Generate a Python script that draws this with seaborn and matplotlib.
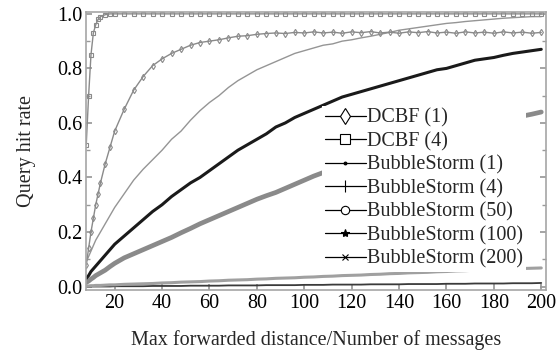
import numpy as np
import pandas as pd
import seaborn as sns
import matplotlib
matplotlib.use("Agg")
import matplotlib.pyplot as plt
from matplotlib.lines import Line2D
from matplotlib.ticker import MultipleLocator

# ---- data ----
x_vals = [8, 9, 10, 11, 12, 13, 14, 16, 18, 20, 24, 28, 32, 36, 40, 44, 48, 52, 56, 60,
          64, 68, 72, 76, 80, 84, 88, 92, 96, 100, 104, 108, 112, 116, 120, 124, 128, 132,
          136, 140, 144, 148, 152, 156, 160, 164, 168, 172, 176, 180, 184, 188, 192, 196, 200]

dcbf_1 = [0.08, 0.14, 0.20, 0.25, 0.30, 0.34, 0.38, 0.45, 0.51, 0.57, 0.65, 0.72, 0.77, 0.81,
          0.835, 0.855, 0.87, 0.885, 0.895, 0.90, 0.905, 0.912, 0.918, 0.92, 0.925, 0.928,
          0.93, 0.928, 0.932, 0.93, 0.934, 0.93, 0.933, 0.929, 0.934, 0.931, 0.935, 0.93,
          0.933, 0.929, 0.934, 0.931, 0.935, 0.93, 0.933, 0.929, 0.934, 0.93, 0.933, 0.929,
          0.934, 0.93, 0.933, 0.929, 0.932]

dcbf_4 = [0.52, 0.70, 0.85, 0.93, 0.96, 0.98, 0.99, 0.997, 1.0, 1.0, 1.0, 1.0, 1.0, 1.0,
          1.0, 1.0, 1.0, 1.0, 1.0, 1.0, 1.0, 1.0, 1.0, 1.0, 1.0, 1.0, 1.0, 1.0, 1.0, 1.0,
          1.0, 1.0, 1.0, 1.0, 1.0, 1.0, 1.0, 1.0, 1.0, 1.0, 1.0, 1.0, 1.0, 1.0, 1.0, 1.0,
          1.0, 1.0, 1.0, 1.0, 1.0, 1.0, 1.0, 1.0, 1.0]

bs_1 = [0.09, 0.11, 0.13, 0.15, 0.17, 0.185, 0.20, 0.23, 0.26, 0.29, 0.34, 0.39, 0.43, 0.465,
        0.50, 0.54, 0.57, 0.61, 0.645, 0.675, 0.70, 0.73, 0.755, 0.775, 0.795, 0.81, 0.825,
        0.84, 0.855, 0.865, 0.875, 0.885, 0.89, 0.90, 0.905, 0.912, 0.918, 0.925, 0.932,
        0.94, 0.945, 0.95, 0.955, 0.96, 0.965, 0.968, 0.972, 0.975, 0.978, 0.981, 0.984,
        0.986, 0.988, 0.99, 0.99]

bs_4 = [0.03, 0.04, 0.055, 0.065, 0.075, 0.085, 0.095, 0.115, 0.135, 0.155, 0.185, 0.215,
        0.245, 0.275, 0.30, 0.33, 0.355, 0.38, 0.40, 0.425, 0.45, 0.475, 0.50, 0.52, 0.54,
        0.56, 0.585, 0.60, 0.62, 0.635, 0.65, 0.665, 0.68, 0.695, 0.705, 0.715, 0.725,
        0.735, 0.745, 0.755, 0.765, 0.775, 0.785, 0.795, 0.80, 0.81, 0.82, 0.83, 0.835,
        0.84, 0.848, 0.855, 0.86, 0.865, 0.87]

bs_50 = [0.015, 0.02, 0.027, 0.033, 0.04, 0.045, 0.05, 0.06, 0.073, 0.085, 0.105, 0.12,
         0.135, 0.15, 0.165, 0.18, 0.197, 0.213, 0.23, 0.245, 0.26, 0.275, 0.29, 0.305,
         0.32, 0.333, 0.345, 0.36, 0.375, 0.39, 0.405, 0.418, 0.43, 0.443, 0.455, 0.468,
         0.48, 0.49, 0.50, 0.51, 0.52, 0.53, 0.54, 0.55, 0.56, 0.567, 0.575, 0.585, 0.595,
         0.603, 0.61, 0.618, 0.625, 0.632, 0.64]

bs_100 = [0.002, 0.002, 0.003, 0.003, 0.004, 0.004, 0.004, 0.005, 0.006, 0.006, 0.008,
          0.009, 0.010, 0.011, 0.013, 0.014, 0.016, 0.017, 0.018, 0.020, 0.021, 0.023,
          0.024, 0.025, 0.027, 0.028, 0.030, 0.031, 0.032, 0.034, 0.035, 0.037, 0.038,
          0.040, 0.041, 0.042, 0.044, 0.045, 0.047, 0.048, 0.050, 0.051, 0.052, 0.054,
          0.055, 0.057, 0.058, 0.060, 0.061, 0.062, 0.064, 0.065, 0.066, 0.067, 0.068]

bs_200 = [0.0, 0.0, 0.0, 0.0, 0.0, 0.0, 0.0, 0.0, 0.0, 0.001, 0.001, 0.001, 0.001, 0.002,
          0.002, 0.002, 0.002, 0.003, 0.003, 0.003, 0.003, 0.004, 0.004, 0.004, 0.004,
          0.005, 0.005, 0.005, 0.005, 0.006, 0.006, 0.006, 0.007, 0.007, 0.007, 0.007,
          0.008, 0.008, 0.008, 0.008, 0.009, 0.009, 0.009, 0.009, 0.010, 0.010, 0.010,
          0.011, 0.011, 0.011, 0.011, 0.012, 0.012, 0.012, 0.013]

series_names = ["DCBF (1)", "DCBF (4)", "BubbleStorm (1)", "BubbleStorm (4)",
                "BubbleStorm (50)", "BubbleStorm (100)", "BubbleStorm (200)"]
series_vals = [dcbf_1, dcbf_4, bs_1, bs_4, bs_50, bs_100, bs_200]
x_ticks = [20, 40, 60, 80, 100, 120, 140, 160, 180, 200]
y_ticks = [0.0, 0.2, 0.4, 0.6, 0.8, 1.0]

df = pd.concat([pd.DataFrame({"x": x_vals, "y": v, "series": n})
                for n, v in zip(series_names, series_vals)], ignore_index=True)

# ---- style ----
sns.set_theme(style="white")
plt.rcParams["font.family"] = ["Liberation Serif", "DejaVu Serif"]

FS = 14.5
fig = plt.figure(figsize=(5.6, 3.52), dpi=100)
ax = fig.add_axes([0.154, 0.176, 0.821, 0.79])

draw = {
    "BubbleStorm (50)":  dict(color="#8a8a8a", lw=3.4, marker=None),
    "BubbleStorm (100)": dict(color="#a0a0a0", lw=2.2, marker=None),
    "BubbleStorm (200)": dict(color="#3a3a3a", lw=1.3, marker=None),
    "BubbleStorm (4)":   dict(color="#1a1a1a", lw=2.2, marker=None),
    "BubbleStorm (1)":   dict(color="#959595", lw=1.0, marker=None),
    "DCBF (1)":          dict(color="#8a8a8a", lw=1.0, marker="d", ms=3.2, mfc="none", mew=0.8),
    "DCBF (4)":          dict(color="#8a8a8a", lw=1.0, marker="s", ms=3.2, mfc="none", mew=0.8),
}
for name in ["BubbleStorm (200)", "BubbleStorm (100)", "BubbleStorm (50)",
             "BubbleStorm (4)", "BubbleStorm (1)", "DCBF (1)", "DCBF (4)"]:
    st = draw[name]
    kw = {}
    if st.get("marker"):
        kw = dict(marker=st["marker"], markersize=st["ms"], markerfacecolor=st["mfc"],
                  markeredgecolor=st["color"], markeredgewidth=st["mew"])
    sns.lineplot(data=df[df["series"] == name], x="x", y="y", ax=ax, color=st["color"],
                 linewidth=st["lw"], legend=False, errorbar=None, **kw)

ax.set_xlim(8, 202)
ax.set_ylim(-0.013, 1.007)
ax.set_xticks(x_ticks)
ax.set_xticklabels([str(t) for t in x_ticks])
ax.set_yticks(y_ticks)
ax.set_yticklabels([f"{t:.1f}" for t in y_ticks])
ax.yaxis.set_minor_locator(MultipleLocator(0.1))
ax.tick_params(axis="both", which="both", direction="in", labelsize=FS, colors="#999999",
               labelcolor="black", right=True, top=False, left=True, bottom=True)
ax.tick_params(axis="x", which="major", length=4, pad=3)
ax.tick_params(axis="y", which="major", length=4, pad=3)
ax.tick_params(axis="y", which="minor", length=3)
for sp in ax.spines.values():
    sp.set_color("#a5a5a5")
    sp.set_linewidth(1.2)

ax.set_xlabel("Max forwarded distance/Number of messages", fontsize=FS, labelpad=12)
ax.set_ylabel("Query hit rate", fontsize=FS, labelpad=15)

# legend (black sample lines with markers)
leg_markers = ["d", "s", ".", "|", "o", "*", "x"]
leg_sizes = [8, 7, 4, 9, 6, 6, 4]
handles = []
for mk, ms in zip(leg_markers, leg_sizes):
    handles.append(Line2D([0], [0], color="black", lw=0.9, marker=mk, markersize=ms,
                          markerfacecolor="white" if mk in ("d", "s", "o") else "black",
                          markeredgecolor="black", markeredgewidth=0.8))
leg = ax.legend(handles, series_names, loc="upper left", bbox_to_anchor=(0.512, 0.663),
                fontsize=FS, frameon=True, fancybox=False, framealpha=1.0,
                edgecolor="white", handlelength=2.05, handletextpad=0.05,
                labelspacing=0.21, borderpad=0.15, borderaxespad=0)
leg.get_frame().set_linewidth(0)

fig.savefig("out.png", dpi=100)
